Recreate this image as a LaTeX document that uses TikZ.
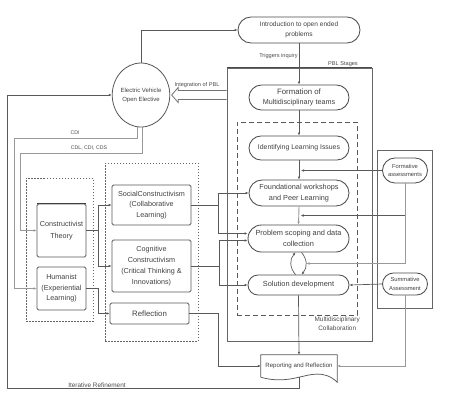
\documentclass[tikz,border=0pt]{standalone}
\usepackage{fontspec}
\setmainfont{Liberation Sans}
\usetikzlibrary{calc,arrows.meta,shapes.geometric,shapes.misc}
\begin{document}
\begin{tikzpicture}[x=1pt,y=-1pt,
  ln/.style={draw=black!65, line width=0.7pt},
  lt/.style={draw=black!40, line width=0.9pt},
  arr/.style={ln, -{Latex[length=3pt,width=2.6pt]}},
  arrl/.style={lt, -{Latex[length=3pt,width=2.6pt]}},
  stadium/.style={rounded rectangle, draw=black!70, line width=0.85pt, align=center, inner sep=1pt, text=black!75, font=\fontsize{7.3}{10.5}\selectfont},
  tbox/.style={rectangle, draw=black!65, line width=0.75pt, rounded corners=1.5pt, align=center, inner sep=0.5pt, text=black!75, font=\fontsize{7.2}{10.5}\selectfont},
  frame/.style={rectangle, draw=black!60, line width=0.7pt, inner sep=0pt},
  dotbox/.style={rectangle, draw=black!60, line width=0.7pt, dash pattern=on 1.5pt off 1.5pt, inner sep=0pt},
  lbl/.style={text=black!70, font=\fontsize{5.6}{6.5}\selectfont, inner sep=1pt, align=center}
]
\fill[white] (0,0) rectangle (457,405);
\useasboundingbox (0,0) rectangle (457,405);

% frames
\node[frame, minimum width=145pt, minimum height=273pt] (pbl) at (299.5,204.5) {};
\draw[black!70, line width=1.3pt] (pbl.north west) -- (pbl.north east);
\node[lbl, anchor=south east] (pbllbl) at (359,68) {PBL Stages};
\node[rectangle, draw=black!65, line width=0.8pt, dash pattern=on 5pt off 3pt, minimum width=120pt, minimum height=193pt, inner sep=0pt] (mdc) at (297,218.5) {};
\node[lbl, anchor=north east, font=\fontsize{6.4}{9}\selectfont] (mdclbl) at (361,316) {Multidisciplinary\\Collaboration};
\node[frame, minimum width=55pt, minimum height=158pt] (asbox) at (404.5,229) {};
\node[dotbox, minimum width=67pt, minimum height=143pt] (thbox) at (59.5,249.5) {};
\node[dotbox, minimum width=93pt, minimum height=178pt] (midbox) at (151.5,252) {};

% PBL stage nodes
\node[stadium, minimum width=124pt, minimum height=26pt, font=\fontsize{6.6}{10}\selectfont] (intro) at (299,30) {Introduction to open ended\\problems};
\node[stadium, minimum width=102pt, minimum height=25pt, font=\fontsize{7.2}{10}\selectfont] (form) at (299,97.5) {{\fontsize{7.8}{10}\selectfont Formation of}\\Multidisciplinary teams};
\node[stadium, minimum width=102pt, minimum height=24pt, font=\fontsize{6.9}{8}\selectfont] (ident) at (299,148) {Identifying Learning Issues};
\node[stadium, minimum width=102pt, minimum height=26pt] (found) at (299,193) {Foundational workshops\\and Peer Learning};
\node[stadium, minimum width=103pt, minimum height=27pt, font=\fontsize{7.4}{10.5}\selectfont] (prob) at (298.5,238.5) {Problem scoping and data\\collection};
\node[stadium, minimum width=103pt, minimum height=20pt, font=\fontsize{7.4}{8.5}\selectfont] (sol) at (298.5,285) {Solution development};

% reporting document
\node[rectangle, minimum width=76pt, minimum height=22pt, inner sep=1pt, text=black!75, font=\fontsize{6.1}{7}\selectfont] (rep) at (299,366) {Reporting and Reflection};
\draw[black!65, line width=0.75pt] (rep.south west) -- (rep.north west) -- (rep.north east) -- ($(rep.south east)+(0,5)$)
  .. controls ($(rep.south)+(25,-8)$) and ($(rep.south)+(10,-2)$) .. (rep.south)
  .. controls ($(rep.south)+(-12,3)$) and ($(rep.south)+(-25,4)$) .. (rep.south west);

% assessments
\node[stadium, minimum width=45pt, minimum height=25pt, inner sep=0pt, font=\fontsize{5.8}{8.5}\selectfont] (fa) at (405,170.5) {Formative\\assessments};
\node[stadium, minimum width=45pt, minimum height=22pt, inner sep=0pt, font=\fontsize{5.8}{8.5}\selectfont] (sa) at (405,284) {Summative\\Assessment};

% ellipse
\node[ellipse, draw=black!65, line width=0.8pt, minimum width=51pt, minimum height=64pt, inner sep=0pt, align=center, text=black!75, font=\fontsize{6}{9}\selectfont] (ev) at (141,95) {Electric Vehicle\\Open Elective};

% theory boxes
\node[tbox, minimum width=49pt, minimum height=53pt, font=\fontsize{7.2}{12.5}\selectfont] (const) at (61.5,230.5) {Constructivist\\Theory};
\draw[black!75, line width=1.2pt] (const.north west) -- (const.north east);
\node[tbox, minimum width=49pt, minimum height=43pt] (hum) at (61.5,288.5) {Humanist\\(Experiential\\Learning)};
\node[tbox, minimum width=79pt, minimum height=40pt] (social) at (151.5,205) {SocialConstructivism\\(Collaborative\\Learning)};
\node[tbox, minimum width=79pt, minimum height=52pt, font=\fontsize{7.2}{11}\selectfont] (cog) at (151.5,266) {Cognitive\\Constructivism\\(Critical Thinking \&\\Innovations)};
\node[tbox, minimum width=79pt, minimum height=21pt, font=\fontsize{7.8}{9}\selectfont] (refl) at (149.5,313.5) {Reflection};

% main flow
\draw[arr] (ev.north) |- (intro.west);
\draw[arr] (intro.south) -- (form.north) node[lbl, pos=0.3, anchor=east] (trig) {Triggers inquiry};
\draw[arr] (form.south) -- (ident.north);
\draw[arr] (ident.south) -- (found.north);
\draw[arrl] (found.south) -- (prob.north);
\draw[arr] ([xshift=-3pt]sol.north) .. controls +(-6,-7) and +(-6,7) .. ([xshift=-3pt]prob.south);
\draw[arr] ([xshift=3pt]prob.south) .. controls +(6,7) and +(6,-7) .. ([xshift=3pt]sol.north);
\draw[arr] (sol.south) -- (rep.north);

% assessments to stages
\coordinate (g1) at ($(ident.south)!0.5!(found.north)+(2,0)$);
\coordinate (g2) at ($(found.south)!0.5!(prob.north)+(2,0)$);
\coordinate (g3) at ($(prob.south)!0.5!(sol.north)+(8,0)$);
\draw[arr] (fa.west) -- (fa.west -| g1);
\draw[arr] (fa.south) |- (g2);
\draw[arrl] (fa.south) |- (g3);
\draw[arr] (sa.west) -- (sol.east);
\draw[arrl] (sa.south) |- (rep.east);

% theories
\draw[arr] (const.east) -- ++(11.5,0) |- (social.west);
\draw[arr] (const.east) -- ++(11.5,0) |- (cog.west);
\draw[arr] (hum.east) -- ++(11.5,0) |- (refl.west);
\draw[arr] (social.east) -- ++(27,0) |- (found.west);
\draw[arr] (social.east) -- ++(27,0) |- ($(prob.west)+(0,-5)$);
\draw[arr] (cog.east) -- ++(27.5,0) |- ($(prob.west)+(0,2)$);
\draw[arr] (cog.east) -- ++(27.5,0) |- (sol.west);
\draw[arr] (refl.east) -- ++(28.5,0) |- (rep.west);

% integration of PBL
\draw[black!55, line width=0.8pt, fill=white]
  ($(pbl.west |- ev.east)+(0,-4.5)$) -- ($(ev.east)+(8,-4.5)$) -- ($(ev.east)+(8,-7.5)$) -- ($(ev.east)+(1.5,0)$)
  -- ($(ev.east)+(8,7.5)$) -- ($(ev.east)+(8,4.5)$) -- ($(pbl.west |- ev.east)+(0,4.5)$);
\node[lbl] (integ) at (197,85) {Integration of PBL};

% ellipse to theories
\coordinate (cdi) at (14,138);
\coordinate (cdl) at (20,153);
\draw[arrl] ([xshift=-4pt]ev.south) |- (cdi) |- (hum.west);
\draw[arrl] ([xshift=1pt]ev.south) |- (cdl) |- (const.west);
\node[lbl, font=\fontsize{5.2}{6}\selectfont] (cdilbl) at (75,133) {CDI};
\node[lbl, font=\fontsize{5.2}{6}\selectfont] (cdllbl) at (89,148.5) {CDL, CDI, CDS};

% iterative refinement
\coordinate (itr) at (7,388);
\draw[arr] (rep.south) |- (itr) |- (ev.west);
\node[lbl, font=\fontsize{6.4}{7}\selectfont] (iterlbl) at (97,385) {Iterative Refinement};
\end{tikzpicture}
\end{document}
